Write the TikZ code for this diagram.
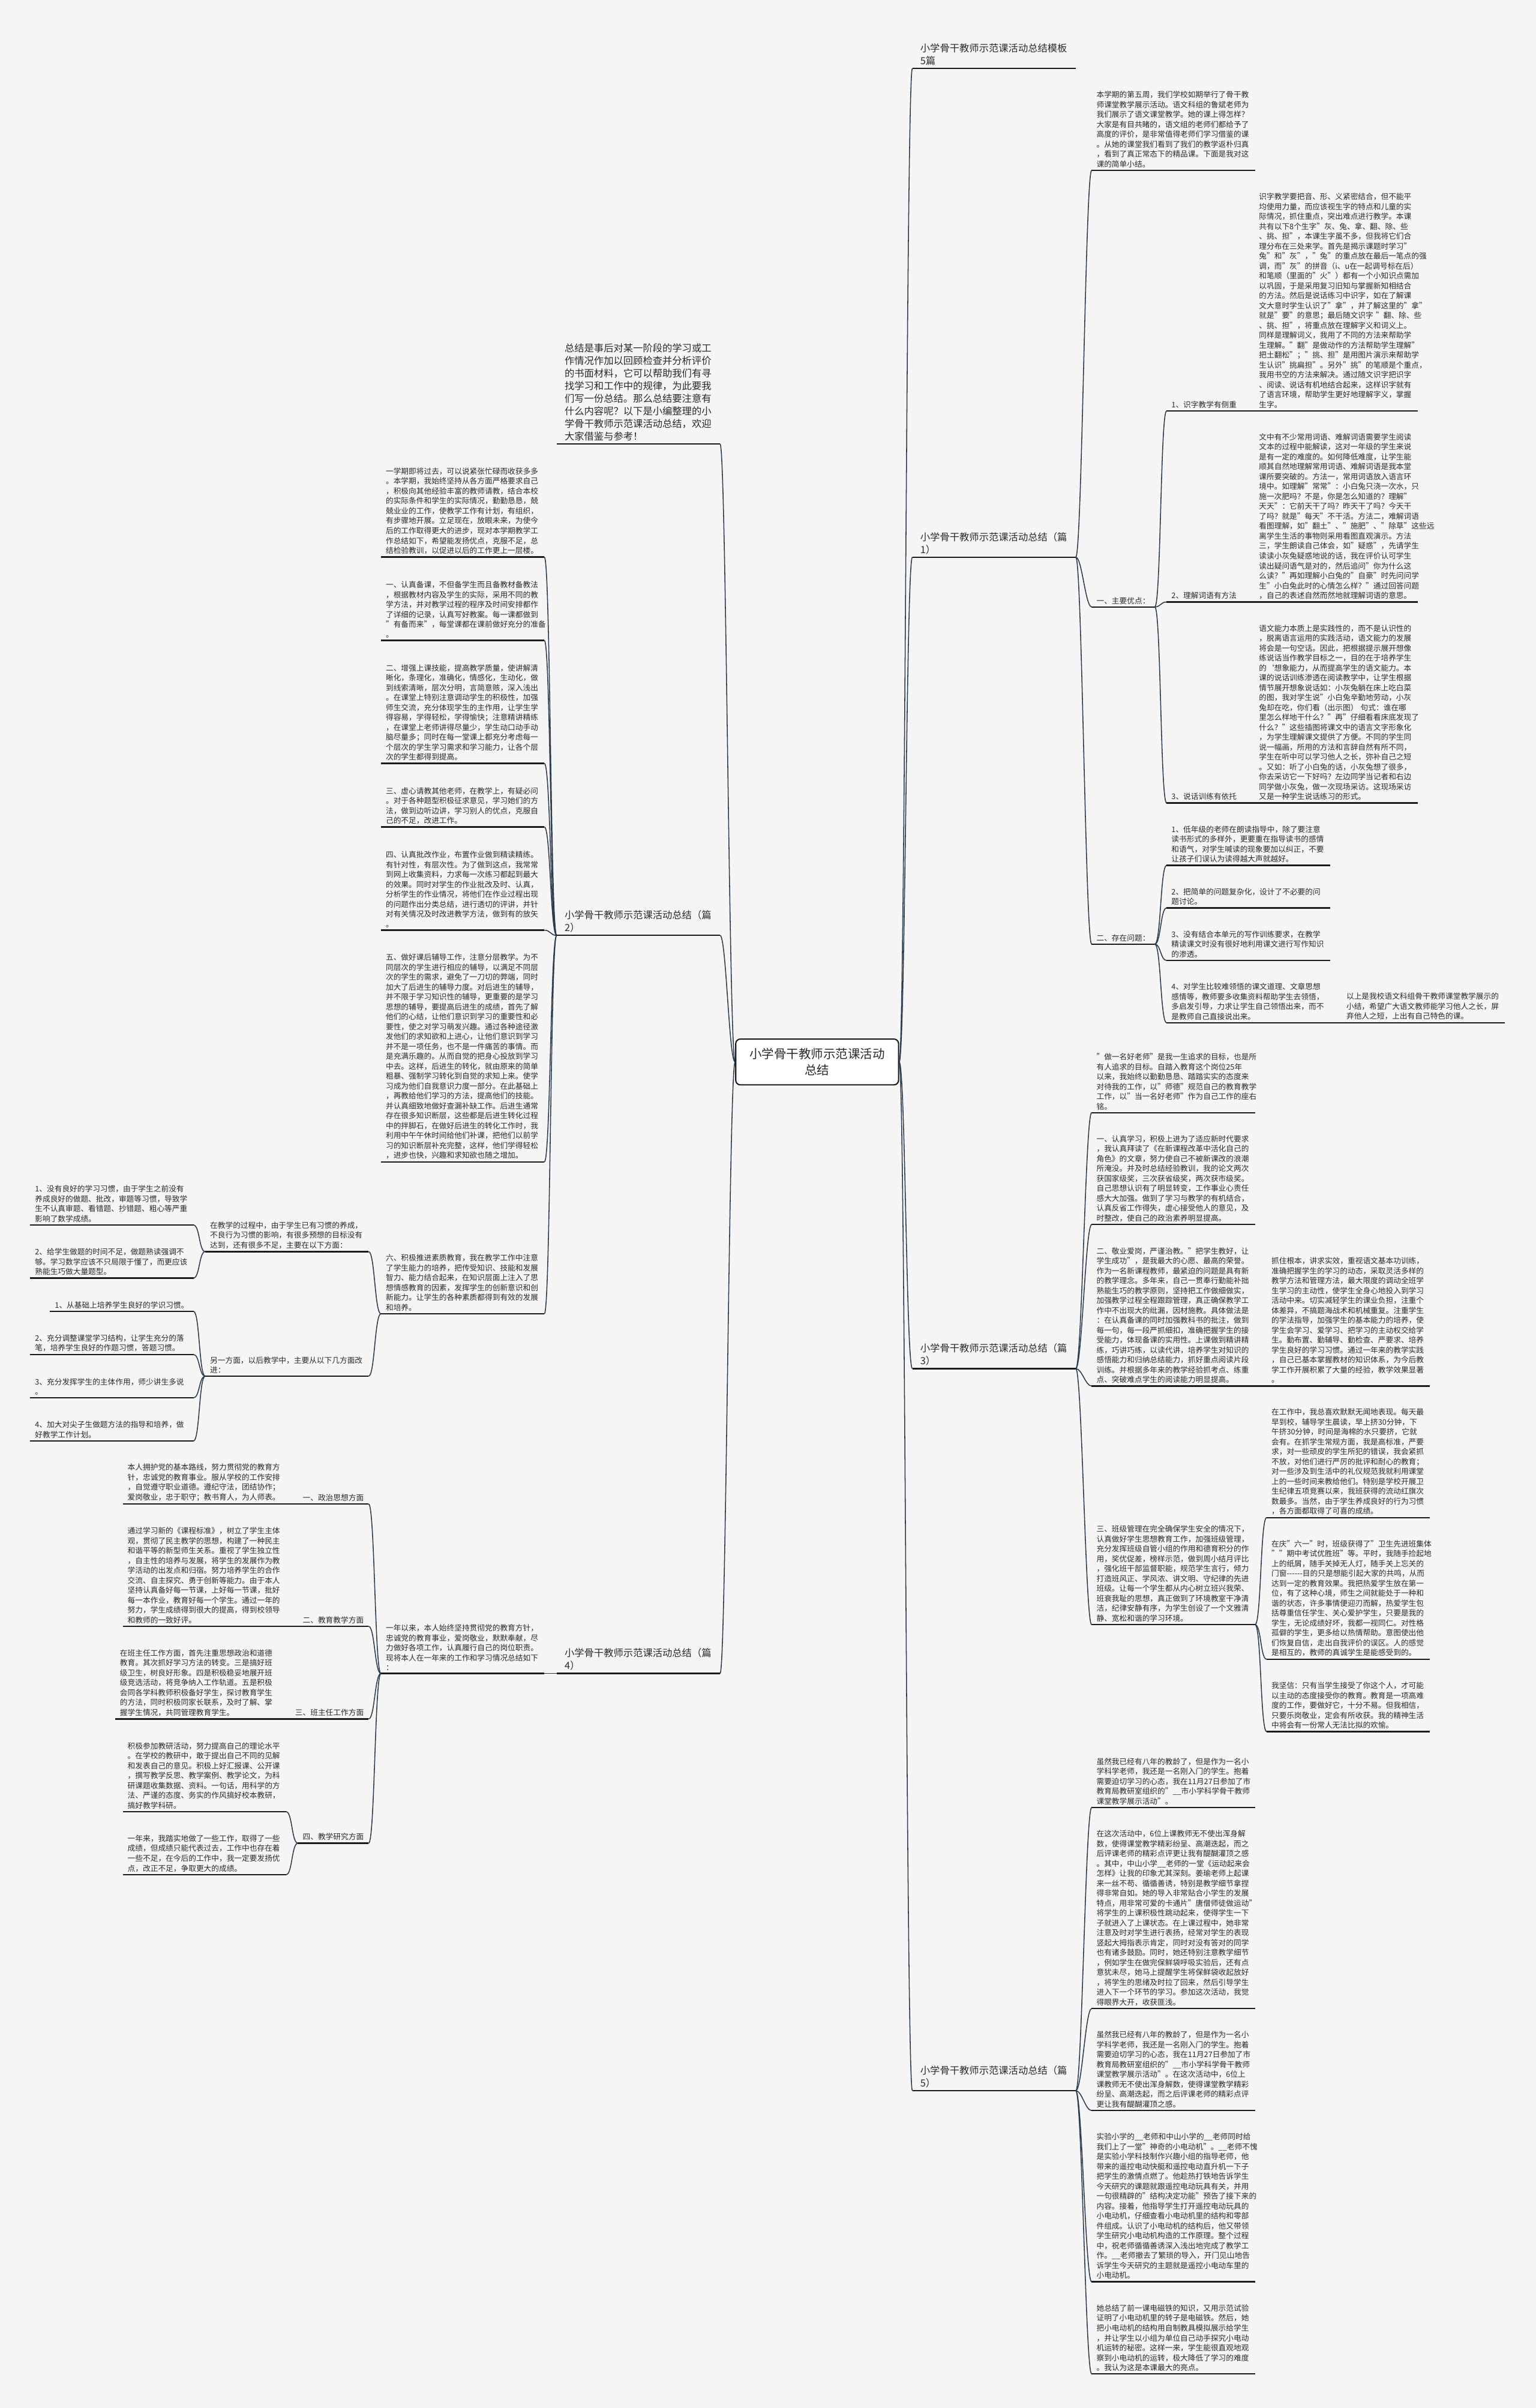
\documentclass[tikz,border=0pt]{standalone}
\usepackage{fontspec}
\setmainfont{Noto Sans CJK SC}
\definecolor{bgcol}{HTML}{F5F5F5}
\definecolor{linkcol}{HTML}{2B3A4A}
\definecolor{linecol}{HTML}{1A1A1A}
\definecolor{txtcol}{HTML}{2A2A2A}
\newcommand{\dashrun}{\mbox{-}\mbox{-}\mbox{-}\mbox{-}\mbox{-}\mbox{-}}
\tikzset{
  rootbox/.style={draw=linecol, line width=0.8pt, fill=white, rounded corners=3pt, align=center,
    font=\fontsize{8pt}{10.4pt}\selectfont, inner xsep=9pt, inner ysep=6pt, text=txtcol},
  ttl/.style={font=\fontsize{6.37pt}{8.2pt}\selectfont, text width=96pt, align=left,
    inner xsep=5pt, inner ysep=1.8pt, text=txtcol},
  blk/.style={font=\fontsize{4.96pt}{6.45pt}\selectfont, text width=100pt, align=left,
    inner xsep=3pt, inner ysep=1.6pt, text=txtcol},
  lbl/.style={font=\fontsize{4.96pt}{6.45pt}\selectfont, inner xsep=3pt, inner ysep=1.6pt, text=txtcol},
  uline/.style={draw=linecol, line width=0.9pt},
  rlink/.style={draw=linkcol, line width=0.6pt, to path={.. controls +(4,0) and +(-4,0) .. (\tikztotarget)}},
  llink/.style={draw=linkcol, line width=0.6pt, to path={.. controls +(-4,0) and +(4,0) .. (\tikztotarget)}}
}
\begin{document}
\begin{tikzpicture}[x=1pt,y=1pt,yscale=-1,xscale=1]
\fill[bgcol] (0,0) rectangle (1000,1568);
\useasboundingbox (0,0) rectangle (1000,1568);

% Root
\node [rootbox] (root) at (532,691.5) {小学骨干教师示范课活动\\总结};

% Right: titles
\node [ttl, anchor=south west] (r0) at (594,44.5) {小学骨干教师示范课活动总结模板\\5篇};
\node [ttl, anchor=south west] (r1) at (594,362.8) {小学骨干教师示范课活动总结（篇\\1）};
\node [ttl, anchor=south west] (r3) at (594,891.2) {小学骨干教师示范课活动总结（篇\\3）};
\node [ttl, anchor=south west] (r5) at (594,1361.4) {小学骨干教师示范课活动总结（篇\\5）};

% Text Node: part 1
\node [blk, anchor=south west] (ra) at (710.7,110.9) {本学期的第五周，我们学校如期举行了骨干教\\
师课堂教学展示活动。语文科组的鲁斌老师为\\
我们展示了语文课堂教学。她的课上得怎样？\\
大家是有目共睹的，语文组的老师们都给予了\\
高度的评价，是非常值得老师们学习借鉴的课\\
。从她的课堂我们看到了我们的教学返朴归真\\
，看到了真正常态下的精品课。下面是我对这\\
课的简单小结。};
\node [lbl, anchor=south west] (rgood) at (710.7,395.2) {一、主要优点：};
\node [lbl, anchor=south west] (rbad) at (710.7,614.8) {二、存在问题：};
\node [lbl, anchor=south west] (rg1) at (759.5,267.6) {1、识字教学有侧重};
\node [lbl, anchor=south west] (rg2) at (759.5,392.0) {2、理解词语有方法};
\node [lbl, anchor=south west] (rg3) at (759.5,522.9) {3、说话训练有依托};
\node [blk, anchor=south west] (rg1t) at (816.5,267.6) {识字教学要把音、形、义紧密结合，但不能平\\
均使用力量，而应该视生字的特点和儿童的实\\
际情况，抓住重点，突出难点进行教学。本课\\
共有以下8个生字"灰、兔、拿、翻、除、些\\
、挑、担"，本课生字虽不多，但我将它们合\\
理分布在三处来学。首先是揭示课题时学习"\\
兔"和"灰"，"兔"的重点放在最后一笔点的强\\
调，而"灰"的拼音（i、u在一起调号标在后）\\
和笔顺（里面的"火"）都有一个小知识点需加\\
以巩固，于是采用复习旧知与掌握新知相结合\\
的方法。然后是说话练习中识字，如在了解课\\
文大意时学生认识了"拿"，并了解这里的"拿"\\
就是"要"的意思；最后随文识字~"翻、除、些\\
、挑、担"，将重点放在理解字义和词义上。\\
同样是理解词义，我用了不同的方法来帮助学\\
生理解。"翻"是做动作的方法帮助学生理解"\\
把土翻松"；"挑、担"是用图片演示来帮助学\\
生认识"挑扁担"。另外"挑"的笔顺是个重点，\\
我用书空的方法来解决。通过随文识字把识字\\
、阅读、说话有机地结合起来，这样识字就有\\
了语言环境，帮助学生更好地理解字义，掌握\\
生字。};
\node [blk, anchor=south west] (rg2t) at (816.5,392.0) {文中有不少常用词语、难解词语需要学生阅读\\
文本的过程中能解读，这对一年级的学生来说\\
是有一定的难度的。如何降低难度，让学生能\\
顺其自然地理解常用词语、难解词语是我本堂\\
课所要突破的。方法一，常用词语放入语言环\\
境中。如理解"常常"：小白兔只浇一次水，只\\
施一次肥吗？不是，你是怎么知道的？理解"\\
天天"：它前天干了吗？昨天干了吗？今天干\\
了吗？就是"每天"不干活。方法二，难解词语\\
看图理解，如"翻土"、"施肥"、"除草"这些远\\
离学生生活的事物则采用看图直观演示。方法\\
三，学生朗读自己体会，如"疑惑"，先请学生\\
读读小灰兔疑惑地说的话，我在评价认可学生\\
读出疑问语气是对的，然后追问"你为什么这\\
么读？"再如理解小白兔的"自豪"时先问问学\\
生"小白兔此时的心情怎么样？"通过回答问题\\
，自己的表述自然而然地就理解词语的意思。};
\node [blk, anchor=south west] (rg3t) at (816.5,522.9) {语文能力本质上是实践性的，而不是认识性的\\
，脱离语言运用的实践活动，语文能力的发展\\
将会是一句空话。因此，把根据提示展开想像\\
练说话当作教学目标之一，目的在于培养学生\\
的`想象能力，从而提高学生的语文能力。本\\
课的说话训练渗透在阅读教学中，让学生根据\\
情节展开想象说话如：小灰兔躺在床上吃白菜\\
的图，我对学生说"小白兔辛勤地劳动，小灰\\
兔却在吃，你们看（出示图）~句式：谁在哪\\
里怎么样地干什么？"再"仔细看看床底发现了\\
什么？"这些插图将课文中的语言文字形象化\\
，为学生理解课文提供了方便。不同的学生同\\
说一幅画，所用的方法和言辞自然有所不同，\\
学生在听中可以学习他人之长，弥补自己之短\\
。又如：听了小白兔的话，小灰兔想了很多，\\
你去采访它一下好吗？左边同学当记者和右边\\
同学做小灰兔，做一次现场采访。这现场采访\\
又是一种学生说话练习的形式。};
\node [blk, anchor=south west] (rb1) at (759.5,563.5) {1、低年级的老师在朗读指导中，除了要注意\\
读书形式的多样外，更要重在指导读书的感情\\
和语气，对学生喊读的现象要加以纠正，不要\\
让孩子们误认为读得越大声就越好。};
\node [blk, anchor=south west] (rb2) at (759.5,591.2) {2、把简单的问题复杂化，设计了不必要的问\\
题讨论。};
\node [blk, anchor=south west] (rb3) at (759.5,625.4) {3、没有结合本单元的写作训练要求，在教学\\
精读课文时没有很好地利用课文进行写作知识\\
的渗透。};
\node [blk, anchor=south west] (rb4) at (759.5,666.0) {4、对学生比较难领悟的课文道理、文章思想\\
感情等，教师要多收集资料帮助学生去领悟，\\
多启发引导，力求让学生自己领悟出来，而不\\
是教师自己直接说出来。};
\node [blk, anchor=south west] (rb4t) at (873.4,666.0) {以上是我校语文科组骨干教师课堂教学展示的\\
小结，希望广大语文教师能学习他人之长，屏\\
弃他人之短，上出有自己特色的课。};

% Text Node: part 3
\node [blk, anchor=south west] (rc1) at (710.7,724.5) {"做一名好老师"是我一生追求的目标，也是所\\
有人追求的目标。自踏入教育这个岗位25年\\
以来，我始终以勤勤恳恳、踏踏实实的态度来\\
对待我的工作，以"师德"规范自己的教育教学\\
工作，以"当一名好老师"作为自己工作的座右\\
铭。};
\node [blk, anchor=south west] (rc2) at (710.7,797.4) {一、认真学习，积极上进为了适应新时代要求\\
，我认真拜读了《在新课程改革中活化自己的\\
角色》的文章，努力使自己不被新课改的浪潮\\
所淹没。并及时总结经验教训，我的论文两次\\
获国家级奖，三次获省级奖，两次获市级奖。\\
自己思想认识有了明显转变，工作事业心责任\\
感大大加强。做到了学习与教学的有机结合，\\
认真反省工作得失，虚心接受他人的意见，及\\
时整改，使自己的政治素养明显提高。};
\node [blk, anchor=south west] (rc3) at (710.7,902.5) {二、敬业爱岗，严谨治教。"把学生教好，让\\
学生成功"，是我最大的心愿、最高的荣誉。\\
作为一名新课程教师，最紧迫的问题是具有新\\
的教学理念。多年来，自己一贯奉行勤能补拙\\
熟能生巧的教学原则，坚持把工作做细做实，\\
加强教学过程全程跟踪管理，真正确保教学工\\
作中不出现大的纰漏，因材施教。具体做法是\\
：在认真备课的同时加强教科书的批注，做到\\
每一句，每一段严抓细扣，准确把握学生的接\\
受能力，体现备课的实用性。上课做到精讲精\\
练，巧讲巧练，以读代讲，培养学生对知识的\\
感悟能力和归纳总结能力，抓好重点阅读片段\\
训练。并根据多年来的教学经验抓考点、练重\\
点、突破难点学生的阅读能力明显提高。};
\node [blk, anchor=south west] (rc3t) at (824.6,902.5) {抓住根本，讲求实效，重视语文基本功训练，\\
准确把握学生的学习的动态，采取灵活多样的\\
教学方法和管理方法，最大限度的调动全班学\\
生学习的主动性，使学生全身心地投入到学习\\
活动中来。切实减轻学生的课业负担，注重个\\
体差异，不搞题海战术和机械重复。注重学生\\
的学法指导，加强学生的基本能力的培养，使\\
学生会学习、爱学习、把学习的主动权交给学\\
生。勤布置、勤辅导、勤检查、严要求、培养\\
学生良好的学习习惯。通过一年来的教学实践\\
，自己已基本掌握教材的知识体系，为今后教\\
学工作开展积累了大量的经验，教学效果显著\\
。};
\node [blk, anchor=south west] (rc4) at (710.7,1057.9) {三、班级管理在完全确保学生安全的情况下，\\
认真做好学生思想教育工作，加强班级管理，\\
充分发挥班级自管小组的作用和德育积分的作\\
用，奖优促差，榜样示范，做到周小结月评比\\
，强化班干部监督职能，规范学生言行，倾力\\
打造班风正、学风浓、讲文明、守纪律的先进\\
班级。让每一个学生都从内心树立班兴我荣、\\
班衰我耻的思想，真正做到了环境教室干净清\\
洁，纪律安静有序，为学生创设了一个文雅清\\
静、宽松和谐的学习环境。};
\node [blk, anchor=south west] (rc4a) at (824.6,988.2) {在工作中，我总喜欢默默无闻地表现。每天最\\
早到校，辅导学生晨读，早上挤30分钟，下\\
午挤30分钟，时间是海棉的水只要挤，它就\\
会有。在抓学生常规方面，我是高标准，严要\\
求，对一些顽皮的学生所犯的错误，我会紧抓\\
不放，对他们进行严厉的批评和耐心的教育；\\
对一些涉及到生活中的礼仪规范我就利用课堂\\
上的一些时间来教给他们。特别是学校开展卫\\
生纪律五项竞赛以来，我班获得的流动红旗次\\
数最多。当然，由于学生养成良好的行为习惯\\
，各方面都取得了可喜的成绩。};
\node [blk, anchor=south west] (rc4b) at (824.6,1080.4) {在庆"六一"时，班级获得了"卫生先进班集体\\
""期中考试优胜班"等。平时，我随手捡起地\\
上的纸屑，随手关掉无人灯，随手关上忘关的\\
门窗\dashrun 目的只是想能引起大家的共鸣，从而\\
达到一定的教育效果。我把热爱学生放在第一\\
位，有了这种心境，师生之间就能处于一种和\\
谐的状态，许多事情便迎刃而解，热爱学生包\\
括尊重信任学生、关心爱护学生，只要是我的\\
学生，无论成绩好坏，我都一视同仁。对性格\\
孤僻的学生，更多给以热情帮助。意图使出他\\
们恢复自信，走出自我评价的误区。人的感觉\\
是相互的，教师的真诚学生是能感受到的。};
\node [blk, anchor=south west] (rc4c) at (824.6,1127.5) {我坚信：只有当学生接受了你这个人，才可能\\
以主动的态度接受你的教育。教育是一项高难\\
度的工作，要做好它，十分不易。但我相信，\\
只要乐岗敬业，定会有所收获。我的精神生活\\
中将会有一份常人无法比拟的欢愉。};

% Text Node: part 5
\node [blk, anchor=south west] (re1) at (710.7,1177.0) {虽然我已经有八年的教龄了，但是作为一名小\\
学科学老师，我还是一名刚入门的学生。抱着\\
需要迫切学习的心态，我在11月27日参加了市\\
教育局教研室组织的"\_\_市小学科学骨干教师\\
课堂教学展示活动"。};
\node [blk, anchor=south west] (re2) at (710.7,1307.9) {在这次活动中，6位上课教师无不使出浑身解\\
数，使得课堂教学精彩纷呈、高潮迭起，而之\\
后评课老师的精彩点评更让我有醍醐灌顶之感\\
。其中，中山小学\_\_老师的一堂《运动起来会\\
怎样》让我的印象尤其深刻。姜瑜老师上起课\\
来一丝不苟、循循善诱，特别是教学细节拿捏\\
得非常自如。她的导入非常贴合小学生的发展\\
特点，用非常可爱的卡通片"唐僧师徒做运动"\\
将学生的上课积极性跳动起来，使得学生一下\\
子就进入了上课状态。在上课过程中，她非常\\
注意及时对学生进行表扬，经常对学生的表现\\
竖起大拇指表示肯定，同时对没有答对的同学\\
也有诸多鼓励。同时，她还特别注意教学细节\\
，例如学生在做完保鲜袋呼吸实验后，还有点\\
意犹未尽，她马上提醒学生将保鲜袋收起放好\\
，将学生的思绪及时拉了回来，然后引导学生\\
进入下一个环节的学习。参加这次活动，我觉\\
得眼界大开，收获匪浅。};
\node [blk, anchor=south west] (re3) at (710.7,1374.3) {虽然我已经有八年的教龄了，但是作为一名小\\
学科学老师，我还是一名刚入门的学生。抱着\\
需要迫切学习的心态，我在11月27日参加了市\\
教育局教研室组织的"\_\_市小学科学骨干教师\\
课堂教学展示活动"。在这次活动中，6位上\\
课教师无不使出浑身解数，使得课堂教学精彩\\
纷呈、高潮迭起，而之后评课老师的精彩点评\\
更让我有醍醐灌顶之感。};
\node [blk, anchor=south west] (re4) at (710.7,1485.8) {实验小学的\_\_老师和中山小学的\_\_老师同时给\\
我们上了一堂"神奇的小电动机"。\_\_老师不愧\\
是实验小学科技制作兴趣小组的指导老师，他\\
带来的遥控电动快艇和遥控电动直升机一下子\\
把学生的激情点燃了。他趁热打铁地告诉学生\\
今天研究的课题就跟遥控电动玩具有关，并用\\
一句很精辟的"结构决定功能"预告了接下来的\\
内容。接着，他指导学生打开遥控电动玩具的\\
小电动机，仔细查看小电动机里的结构和零部\\
件组成。认识了小电动机的结构后，他又带领\\
学生研究小电动机构造的工作原理。整个过程\\
中，祝老师循循善诱深入浅出地完成了教学工\\
作。\_\_老师撤去了繁琐的导入，开门见山地告\\
诉学生今天研究的主题就是遥控小电动车里的\\
小电动机。};
\node [blk, anchor=south west] (re5) at (710.7,1545.8) {她总结了前一课电磁铁的知识，又用示范试验\\
证明了小电动机里的转子是电磁铁。然后，她\\
把小电动机的结构用自制教具模拟展示给学生\\
，并让学生以小组为单位自己动手探究小电动\\
机运转的秘密。这样一来，学生能很直观地观\\
察到小电动机的运转，极大降低了学习的难度\\
。我认为这是本课最大的亮点。};

% Left: titles
\node [ttl, anchor=south east] (l0) at (468.8,289.1) {总结是事后对某一阶段的学习或工\\
作情况作加以回顾检查并分析评价\\
的书面材料，它可以帮助我们有寻\\
找学习和工作中的规律，为此要我\\
们写一份总结。那么总结要注意有\\
什么内容呢？以下是小编整理的小\\
学骨干教师示范课活动总结，欢迎\\
大家借鉴与参考！};
\node [ttl, anchor=south east] (l2) at (468.8,609.1) {小学骨干教师示范课活动总结（篇\\2）};
\node [ttl, anchor=south east] (l4) at (468.8,1089.7) {小学骨干教师示范课活动总结（篇\\4）};

% Text Node: part 2
\node [blk, anchor=south east] (lb1) at (354.4,362.7) {一学期即将过去，可以说紧张忙碌而收获多多\\
。本学期，我始终坚持从各方面严格要求自己\\
，积极向其他经验丰富的教师请教，结合本校\\
的实际条件和学生的实际情况，勤勤恳恳，兢\\
兢业业的工作，使教学工作有计划，有组织，\\
有步骤地开展。立足现在，放眼未来，为使今\\
后的工作取得更大的进步，现对本学期教学工\\
作总结如下，希望能发扬优点，克服不足，总\\
结检验教训，以促进以后的工作更上一层楼。};
\node [blk, anchor=south east] (lb2) at (354.4,417.0) {一、认真备课，不但备学生而且备教材备教法\\
，根据教材内容及学生的实际，采用不同的教\\
学方法，并对教学过程的程序及时间安排都作\\
了详细的记录，认真写好教案。每一课都做到\\
"有备而来"，每堂课都在课前做好充分的准备\\
。};
\node [blk, anchor=south east] (lb3) at (354.4,497.1) {二、增强上课技能，提高教学质量，使讲解清\\
晰化，条理化，准确化，情感化，生动化，做\\
到线索清晰，层次分明，言简意赅，深入浅出\\
。在课堂上特别注意调动学生的积极性，加强\\
师生交流，充分体现学生的主作用，让学生学\\
得容易，学得轻松，学得愉快；注意精讲精练\\
，在课堂上老师讲得尽量少，学生动口动手动\\
脑尽量多；同时在每一堂课上都充分考虑每一\\
个层次的学生学习需求和学习能力，让各个层\\
次的学生都得到提高。};
\node [blk, anchor=south east] (lb4) at (354.4,538.5) {三、虚心请教其他老师，在教学上，有疑必问\\
。对于各种题型积极征求意见，学习她们的方\\
法，做到边听边讲，学习别人的优点，克服自\\
己的不足，改进工作。};
\node [blk, anchor=south east] (lb5) at (354.4,605.7) {四、认真批改作业，布置作业做到精读精练。\\
有针对性，有层次性。为了做到这点，我常常\\
到网上收集资料，力求每一次练习都起到最大\\
的效果。同时对学生的作业批改及时、认真，\\
分析学生的作业情况，将他们在作业过程出现\\
的问题作出分类总结，进行透切的评讲，并针\\
对有关情况及时改进教学方法，做到有的放矢\\
。};
\node [blk, anchor=south east] (lb6) at (354.4,756.6) {五、做好课后辅导工作，注意分层教学。为不\\
同层次的学生进行相应的辅导，以满足不同层\\
次的学生的需求，避免了一刀切的弊端，同时\\
加大了后进生的辅导力度。对后进生的辅导，\\
并不限于学习知识性的辅导，更重要的是学习\\
思想的辅导，要提高后进生的成绩，首先了解\\
他们的心结，让他们意识到学习的重要性和必\\
要性，使之对学习萌发兴趣。通过各种途径激\\
发他们的求知欲和上进心，让他们意识到学习\\
并不是一项任务，也不是一件痛苦的事情。而\\
是充满乐趣的。从而自觉的把身心投放到学习\\
中去。这样，后进生的转化，就由原来的简单\\
粗暴、强制学习转化到自觉的求知上来。使学\\
习成为他们自我意识力度一部分。在此基础上\\
，再教给他们学习的方法，提高他们的技能。\\
并认真细致地做好查漏补缺工作。后进生通常\\
存在很多知识断层，这些都是后进生转化过程\\
中的拌脚石，在做好后进生的转化工作时，我\\
利用中午午休时间给他们补课，把他们以前学\\
习的知识断层补充完整，这样，他们学得轻松\\
，进步也快，兴趣和求知欲也随之增加。};
\node [blk, anchor=south east] (lb7) at (354.4,855.5) {六、积极推进素质教育，我在教学工作中注意\\
了学生能力的培养，把传受知识、技能和发展\\
智力、能力结合起来，在知识层面上注入了思\\
想情感教育的因素，发挥学生的创新意识和创\\
新能力。让学生的各种素质都得到有效的发展\\
和培养。};
\node [blk, anchor=south east] (lq) at (240,815.0) {在教学的过程中，由于学生已有习惯的养成，\\
不良行为习惯的影响，有很多预想的目标没有\\
达到，还有很多不足，主要在以下方面：};
\node [blk, anchor=south east] (lm) at (240,896.1) {另一方面，以后教学中，主要从以下几方面改\\
进：};
\node [blk, anchor=south east] (lq1) at (126,797.7) {1、没有良好的学习习惯，由于学生之前没有\\
养成良好的做题、批改，审题等习惯，导致学\\
生不认真审题、看错题、抄错题、粗心等严重\\
影响了数学成绩。};
\node [blk, anchor=south east] (lq2) at (126,832.2) {2、给学生做题的时间不足，做题熟读强调不\\
够。学习数学应该不只局限于懂了，而更应该\\
熟能生巧做大量题型。};
\node [lbl, anchor=south east] (lm1) at (126,853.9) {1、从基础上培养学生良好的学识习惯。};
\node [blk, anchor=south east] (lm2) at (126,882.0) {2、充分调整课堂学习结构，让学生充分的落\\
笔，培养学生良好的作题习惯，答题习惯。};
\node [blk, anchor=south east] (lm3) at (126,910.2) {3、充分发挥学生的主体作用，师少讲生多说\\
。};
\node [blk, anchor=south east] (lm4) at (126,938.3) {4、加大对尖子生做题方法的指导和培养，做\\
好教学工作计划。};

% Text Node: part 4
\node [blk, anchor=south east] (ld) at (354.4,1089.7) {一年以来，本人始终坚持贯彻党的教育方针，\\
忠诚党的教育事业，爱岗敬业，默默奉献，尽\\
力做好各项工作，认真履行自己的岗位职责。\\
现将本人在一年来的工作和学习情况总结如下\\
：};
\node [lbl, anchor=south east] (ld1) at (240,979.3) {一、政治思想方面};
\node [lbl, anchor=south east] (ld2) at (240,1059.0) {二、教育教学方面};
\node [lbl, anchor=south east] (ld3) at (240,1119.3) {三、班主任工作方面};
\node [lbl, anchor=south east] (ld4) at (240,1200.2) {四、教学研究方面};
\node [blk, anchor=south east] (ld1t) at (186.3,979.3) {本人拥护党的基本路线，努力贯彻党的教育方\\
针，忠诚党的教育事业。服从学校的工作安排\\
，自觉遵守职业道德。遵纪守法，团结协作；\\
爱岗敬业，忠于职守；教书育人，为人师表。};
\node [blk, anchor=south east] (ld2t) at (186.3,1059.0) {通过学习新的《课程标准》，树立了学生主体\\
观，贯彻了民主教学的思想，构建了一种民主\\
和谐平等的新型师生关系。重视了学生独立性\\
，自主性的培养与发展，将学生的发展作为教\\
学活动的出发点和归宿。努力培养学生的合作\\
交流、自主探究、勇于创新等能力。由于本人\\
坚持认真备好每一节课，上好每一节课，批好\\
每一本作业，教育好每一个学生。通过一年的\\
努力，学生成绩得到很大的提高，得到校领导\\
和教师的一致好评。};
\node [blk, anchor=south east] (ld3t) at (181.3,1119.3) {在班主任工作方面，首先注重思想政治和道德\\
教育。其次抓好学习方法的转变。三是搞好班\\
级卫生，树良好形象。四是积极稳妥地展开班\\
级竞选活动，将竞争纳入工作轨道。五是积极\\
会同各学科教师积极备好学生，探讨教育学生\\
的方法，同时积极同家长联系，及时了解、掌\\
握学生情况，共同管理教育学生。};
\node [blk, anchor=south east] (ld4a) at (186.3,1179.7) {积极参加教研活动，努力提高自己的理论水平\\
。在学校的教研中，敢于提出自己不同的见解\\
和发表自己的意见。积极上好汇报课、公开课\\
，撰写教学反思、教学案例、教学论文，为科\\
研课题收集数据、资料。一句话，用科学的方\\
法、严谨的态度、务实的作风搞好校本教研，\\
搞好教学科研。};
\node [blk, anchor=south east] (ld4b) at (186.3,1220.7) {一年来，我踏实地做了一些工作，取得了一些\\
成绩，但成绩只能代表过去，工作中也存在着\\
一些不足，在今后的工作中，我一定要发扬优\\
点，改正不足，争取更大的成绩。};

% Underlines
\foreach \n in {r0,r1,r3,r5,ra,rgood,rbad,rg1,rg2,rg3,rg1t,rg2t,rg3t,rb1,rb2,rb3,rb4,rb4t,
  rc1,rc2,rc3,rc3t,rc4,rc4a,rc4b,rc4c,re1,re2,re3,re4,re5,
  l0,l2,l4,lb1,lb2,lb3,lb4,lb5,lb6,lb7,lq,lm,lq1,lq2,lm1,lm2,lm3,lm4,
  ld,ld1,ld2,ld3,ld4,ld1t,ld2t,ld3t,ld4a,ld4b}
  \draw [uline] (\n.south west) -- (\n.south east);

% Connectors
\foreach \b in {r0,r1,r3,r5}
  \draw [rlink] (root.east) to (\b.south west);
\foreach \b in {l0,l2,l4}
  \draw [llink] (root.west) to (\b.south east);
\foreach \a/\b in {r1/ra,r1/rgood,r1/rbad,rgood/rg1,rgood/rg2,rgood/rg3,
  rbad/rb1,rbad/rb2,rbad/rb3,rbad/rb4,r3/rc1,r3/rc2,r3/rc3,r3/rc4,
  rc4/rc4a,rc4/rc4b,rc4/rc4c,r5/re1,r5/re2,r5/re3,r5/re4,r5/re5}
  \draw [rlink] (\a.south east) to (\b.south west);
\foreach \a/\b in {l2/lb1,l2/lb2,l2/lb3,l2/lb4,l2/lb5,l2/lb6,l2/lb7,
  lb7/lq,lb7/lm,lq/lq1,lq/lq2,lm/lm1,lm/lm2,lm/lm3,lm/lm4,
  l4/ld,ld/ld1,ld/ld2,ld/ld3,ld/ld4,ld4/ld4a,ld4/ld4b}
  \draw [llink] (\a.south west) to (\b.south east);
% single child: straight underline
\foreach \a/\b in {rg1/rg1t,rg2/rg2t,rg3/rg3t,rb4/rb4t,rc3/rc3t}
  \draw [uline] (\a.south east) -- (\b.south west);
\foreach \a/\b in {ld1/ld1t,ld2/ld2t,ld3/ld3t}
  \draw [uline] (\a.south west) -- (\b.south east);
\end{tikzpicture}
\end{document}
